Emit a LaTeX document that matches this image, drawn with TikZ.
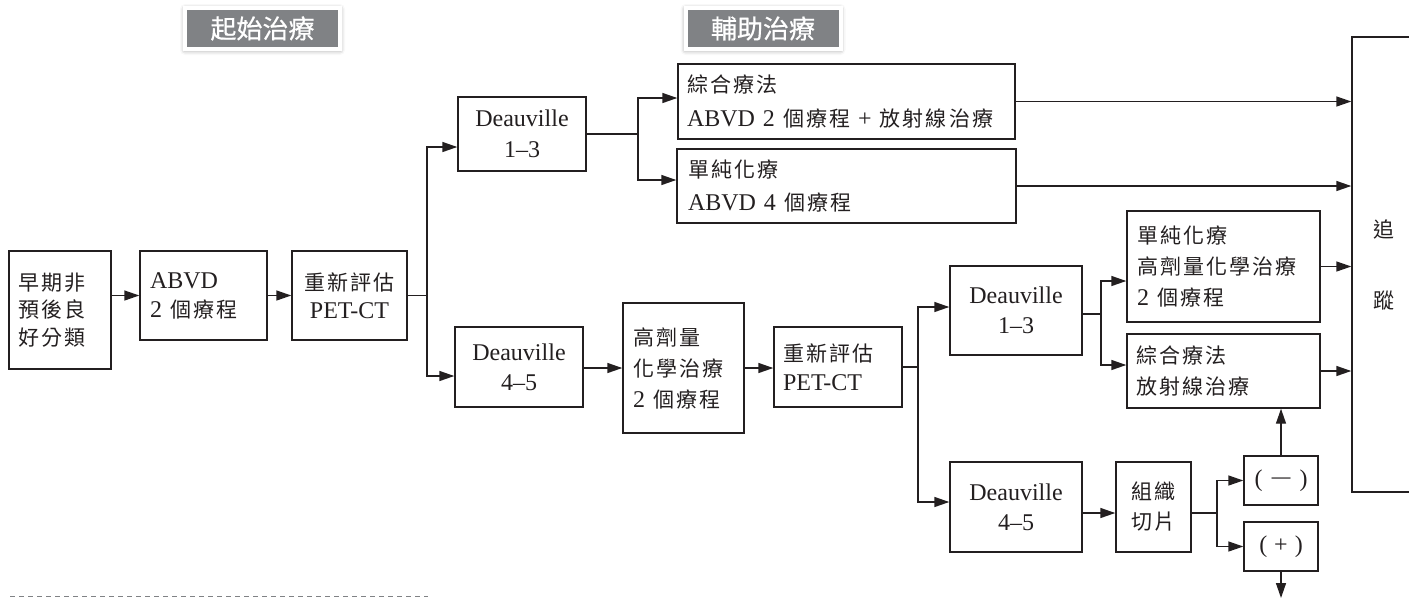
\documentclass[tikz,border=0pt]{standalone}
\usepackage{fontspec}
\setmainfont{Liberation Serif}
\newfontfamily\cjkfont[LetterSpace=10,Scale=0.875]{Noto Sans CJK TC}
\newfontfamily\tagfont[FakeBold=0.6]{Noto Sans CJK TC}
\newcommand\C[1]{{\cjkfont #1}}
\usetikzlibrary{arrows.meta,shadows.blur}
\definecolor{ink}{HTML}{231F20}
\definecolor{taggray}{HTML}{808285}
\tikzset{
  bx/.style={draw=ink, line width=1.4pt, inner ysep=0pt, inner xsep=9pt, anchor=center,
    font=\fontsize{24}{30}\selectfont, text=ink},
  ln/.style={draw=ink, line width=1.4pt},
  arr/.style={ln, -{Triangle[length=15pt,width=10pt]}},
  tag/.style={fill=taggray, draw=white, line width=4pt, minimum width=155pt, minimum height=41pt,
    inner sep=0pt, text=white, font=\tagfont\fontsize{26}{30}\selectfont,
    blur shadow={shadow xshift=0pt, shadow yshift=-1pt, shadow blur radius=5pt, shadow opacity=45}},
  dashline/.style={draw=taggray, line width=1.5pt, dash pattern=on 5pt off 4pt}
}
\begin{document}
\begin{tikzpicture}[x=1pt,y=-1pt]
\useasboundingbox (0,0) rectangle (1409,598);
\clip (0,0) rectangle (1409,598);
% tags
\node[tag] (t1) at (262.5,28.5) {起始治療};
\node[tag] (t2) at (763,28.5) {輔助治療};
% boxes
\node[bx, minimum height=118pt, text width=84pt, align=left, font=\fontsize{24}{27.5}\selectfont] (A) at (60,310) {\C{早期非}\\\C{預後良}\\\C{好分類}};
\node[bx, minimum height=89pt, inner xsep=10pt, text width=107pt, align=left, font=\fontsize{24}{29}\selectfont] (B) at (203.5,295.5) {ABVD\\2 \C{個療程}};
\node[bx, minimum height=89pt, inner xsep=5pt, text width=105pt, align=center, font=\fontsize{24}{28}\selectfont] (C) at (349.5,295.5) {\C{重新評估}\\PET-CT};
\node[bx, minimum height=74pt, inner xsep=5pt, text width=118pt, align=center, font=\fontsize{24}{31}\selectfont] (D) at (522,134) {Deauville\\1–3};
\node[bx, minimum height=80pt, inner xsep=5pt, text width=118pt, align=center] (E) at (519,367) {Deauville\\4–5};
\node[bx, minimum height=75pt, text width=319pt, align=left, font=\fontsize{24}{34}\selectfont] (F) at (846.5,101.5) {\C{綜合療法}\\ABVD 2 \C{個療程} + \C{放射線治療}};
\node[bx, minimum height=74pt, inner xsep=11pt, text width=317pt, align=left, font=\fontsize{24}{33}\selectfont] (G) at (846.5,186) {\C{單純化療}\\ABVD 4 \C{個療程}};
\node[bx, minimum height=130pt, inner xsep=10pt, text width=101pt, align=left, font=\fontsize{24}{31}\selectfont] (H) at (683.5,368) {\C{高劑量}\\\C{化學治療}\\2 \C{個療程}};
\node[bx, minimum height=80pt, text width=110pt, align=left, font=\fontsize{24}{29}\selectfont] (I) at (838,367) {\C{重新評估}\\PET-CT};
\node[bx, minimum height=89pt, inner xsep=5pt, text width=122pt, align=center] (J) at (1016,310.5) {Deauville\\1–3};
\node[bx, minimum height=90pt, inner xsep=5pt, text width=122pt, align=center] (K) at (1016,507) {Deauville\\4–5};
\node[bx, minimum height=111pt, inner xsep=10pt, text width=173pt, align=left, font=\fontsize{24}{31}\selectfont] (L) at (1223.5,266.5) {\C{單純化療}\\\C{高劑量化學治療}\\2 \C{個療程}};
\node[bx, minimum height=74pt, text width=175pt, align=left, font=\fontsize{24}{31}\selectfont] (M) at (1223.5,371) {\C{綜合療法}\\\C{放射線治療}};
\node[bx, minimum height=90pt, inner xsep=3pt, text width=69pt, align=center] (N) at (1153.5,507) {\C{組織}\\\C{切片}};
\node[bx, minimum height=49pt, inner xsep=3pt, text width=68pt, align=center] (P) at (1281,480.5) {(\hspace{7pt}\scalebox{1.7}[1]{−}\hspace{7pt})};
\node[bx, minimum height=49pt, inner xsep=3pt, text width=68pt, align=center] (Q) at (1281,546.5) {(\hspace{7pt}+\hspace{7pt})};
\node[bx, minimum height=455pt, inner xsep=21pt, text width=66pt, align=left, font=\fontsize{24}{71}\selectfont] (T) at (1406,264.5) {\C{追}\\\C{蹤}};
% connectors
\draw[arr] (A.east |- B.west) -- (B.west);
\draw[arr] (B.east) -- (C.west);
\coordinate (j1) at (427,296);
\draw[ln] (C.east) -- (C.east -| j1);
\draw[arr] (j1) |- ([yshift=-13pt]D.west);
\draw[arr] (j1) |- ([yshift=-9pt]E.west);
\coordinate (j2) at (638,134);
\draw[ln] (D.east) -- (j2);
\draw[arr] (j2) |- ([yshift=3.5pt]F.west);
\draw[arr] (j2) |- ([yshift=6pt]G.west);
\draw[arr] (F.east) -- (F.east -| T.west);
\draw[arr] (G.east) -- (G.east -| T.west);
\draw[arr] (E.east |- H.west) -- (H.west);
\draw[arr] (H.east) -- (H.east -| I.west);
\coordinate (j3) at (918,368);
\draw[ln] (I.east) -- (I.east -| j3);
\draw[arr] (j3) |- ([yshift=3.5pt]J.west);
\draw[arr] (j3) |- ([yshift=5pt]K.west);
\coordinate (j4) at (1101,314);
\draw[ln] (J.east |- j4) -- (j4);
\draw[arr] (j4) |- ([yshift=-14.5pt]L.west);
\draw[arr] (j4) |- ([yshift=6pt]M.west);
\draw[arr] (L.east) -- (L.east -| T.west);
\draw[arr] (M.east) -- (M.east -| T.west);
\draw[arr] ([yshift=-6pt]K.east) -- ([yshift=-6pt]K.east -| N.west);
\coordinate (j5) at (1217,513);
\draw[ln] ([yshift=-6pt]N.east) -- (j5);
\draw[arr] (j5) |- (P.west);
\draw[arr] (j5) |- (Q.west);
\draw[arr] (P.north) -- (P.north |- M.south);
\coordinate (endQ) at (1281,598);
\draw[arr] (Q.south) -- (endQ);
% dashed rule
\coordinate (d1) at (10,596.5);
\coordinate (d2) at (428,596.5);
\draw[dashline] (d1) -- (d2);
\end{tikzpicture}
\end{document}
